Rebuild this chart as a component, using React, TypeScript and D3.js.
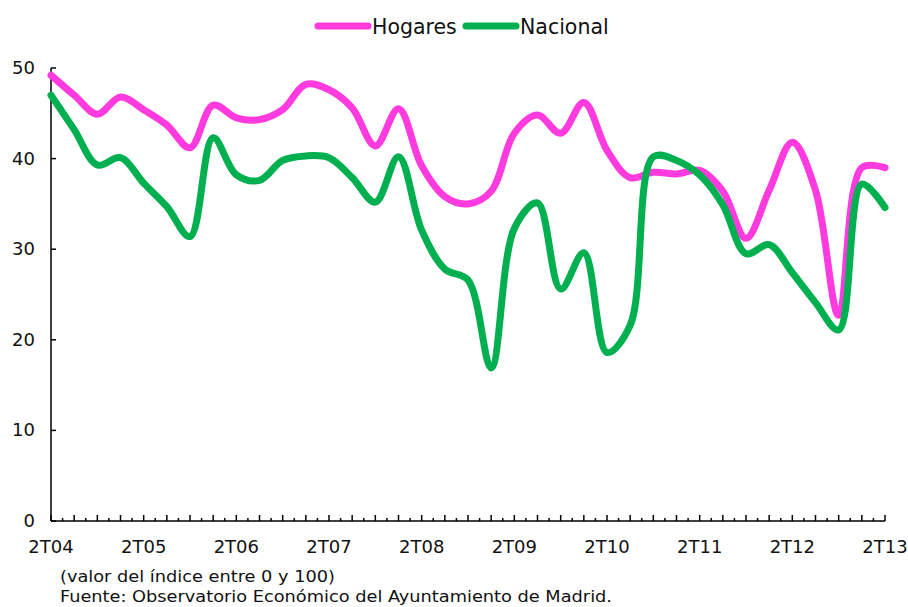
import React, { useRef, useEffect } from "react";
import * as d3 from "d3";

// quarterly index values, 2T04 .. 2T13
const yearLabels = ["2T04", "2T05", "2T06", "2T07", "2T08", "2T09", "2T10", "2T11", "2T12", "2T13"];
const hogares = [
  49.2, 47.0, 44.9, 46.8, 45.4, 43.7, 41.2, 45.9, 44.5, 44.3,
  45.4, 48.2, 47.6, 45.6, 41.4, 45.5, 39.2, 35.8, 35.0, 36.4,
  42.8, 44.8, 42.8, 46.2, 40.9, 37.9, 38.5, 38.3, 38.7, 36.4,
  31.2, 36.5, 41.8, 36.5, 22.7, 39.0, 39.0,
];
const nacional = [
  47.0, 43.2, 39.3, 40.1, 37.3, 34.7, 31.4, 42.3, 38.2, 37.6,
  39.8, 40.3, 40.1, 37.9, 35.2, 40.2, 32.1, 27.8, 26.6, 16.9,
  32.3, 35.1, 25.6, 29.6, 18.6, 21.6, 40.2, 39.8, 38.2, 34.9,
  29.5, 30.5, 27.4, 24.1, 21.1, 37.2, 34.6,
];
const yTicks = [0, 10, 20, 30, 40, 50];
const seriesNames = ["Hogares", "Nacional"];
const seriesColors = ["#FF3BE0", "#00B050"];
const notes = [
  "(valor del índice entre 0 y 100)",
  "Fuente: Observatorio Económico del Ayuntamiento de Madrid.",
];

export default function App() {
  const svgRef = useRef<SVGSVGElement>(null);

  useEffect(() => {
    const svg = d3.select(svgRef.current);
    svg.selectAll("*").remove();

    const left = 51, right = 885, top = 68, bottom = 521;

    const x = d3.scaleLinear().domain([0, hogares.length - 1]).range([left, right]);
    const y = d3.scaleLinear().domain([0, 50]).range([bottom, top]);

    // y axis
    const g = svg.append("g");
    g.append("line")
      .attr("x1", left).attr("x2", left)
      .attr("y1", top).attr("y2", bottom)
      .attr("stroke", "#000").attr("stroke-width", 1.5);
    g.selectAll(".ytick")
      .data(yTicks)
      .join("line")
      .attr("x1", left).attr("x2", left + 5)
      .attr("y1", (d) => y(d)).attr("y2", (d) => y(d))
      .attr("stroke", "#000").attr("stroke-width", 1.5);
    g.selectAll(".ylab")
      .data(yTicks)
      .join("text")
      .attr("x", 35)
      .attr("y", (d) => y(d) + 6)
      .attr("text-anchor", "end")
      .attr("font-family", "DejaVu Sans")
      .attr("font-size", 18)
      .attr("fill", "#111")
      .text((d) => d);

    // x axis, tall ticks on quarters, short ones in between
    g.append("line")
      .attr("x1", left).attr("x2", right)
      .attr("y1", bottom).attr("y2", bottom)
      .attr("stroke", "#000").attr("stroke-width", 1.5);
    const halfSteps = d3.range(0, (hogares.length - 1) * 2 + 1);
    g.selectAll(".xtick")
      .data(halfSteps)
      .join("line")
      .attr("x1", (d) => x(d / 2)).attr("x2", (d) => x(d / 2))
      .attr("y1", bottom).attr("y2", (d) => (d % 2 === 0 ? bottom - 6 : bottom - 3))
      .attr("stroke", "#000").attr("stroke-width", 1.5);
    g.selectAll(".xlab")
      .data(yearLabels)
      .join("text")
      .attr("x", (d, i) => x(i * 4))
      .attr("y", 553)
      .attr("text-anchor", "middle")
      .attr("font-family", "DejaVu Sans")
      .attr("font-size", 18)
      .attr("fill", "#111")
      .text((d) => d);

    // lines
    const line = d3.line<number>()
      .x((d, i) => x(i))
      .y((d) => y(d))
      .curve(d3.curveCatmullRom.alpha(0.5));

    [hogares, nacional].forEach((s, i) => {
      svg.append("path")
        .datum(s)
        .attr("fill", "none")
        .attr("stroke", seriesColors[i])
        .attr("stroke-width", 7)
        .attr("stroke-linejoin", "round")
        .attr("stroke-linecap", "round")
        .attr("d", line);
    });

    // legend
    const legendPos = [318, 466];
    seriesNames.forEach((name, i) => {
      svg.append("line")
        .attr("x1", legendPos[i]).attr("x2", legendPos[i] + 50)
        .attr("y1", 26).attr("y2", 26)
        .attr("stroke", seriesColors[i])
        .attr("stroke-width", 7)
        .attr("stroke-linecap", "round");
      svg.append("text")
        .attr("x", legendPos[i] + 54)
        .attr("y", 33.5)
        .attr("font-family", "DejaVu Sans")
        .attr("font-size", 20.5)
        .attr("fill", "#111")
        .text(name);
    });

    // notes (narrow font, stretched to the reference width)
    const noteWidths = [275, 552];
    svg.selectAll(".note")
      .data(notes)
      .join("text")
      .attr("x", 60)
      .attr("y", (d, i) => 582 + i * 20)
      .attr("font-family", "DejaVu Sans Condensed, DejaVu Sans")
      .attr("font-size", 16.5)
      .attr("fill", "#111")
      .attr("textLength", (d, i) => noteWidths[i])
      .attr("lengthAdjust", "spacingAndGlyphs")
      .text((d) => d);
  }, []);

  return (
    <svg
      ref={svgRef}
      width={908}
      height={607}
      style={{ position: "absolute", left: 0, top: 0, background: "#fff" }}
    />
  );
}
